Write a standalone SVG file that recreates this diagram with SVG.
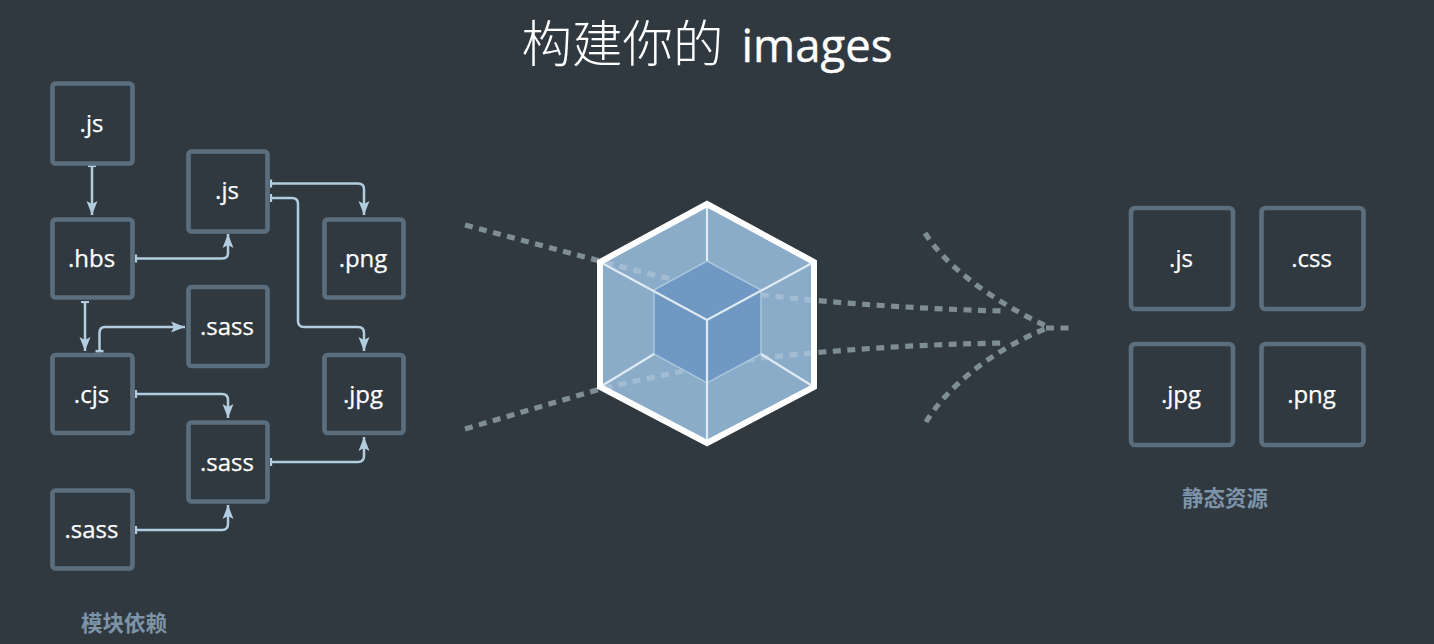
<svg xmlns="http://www.w3.org/2000/svg" width="1434" height="644" viewBox="0 0 1434 644">
<style>
.box{fill:none;stroke:#5b6e7e;stroke-width:4.6}
.t{font-family:"Open Sans","Noto Sans",sans-serif;font-size:24px;fill:#fff;stroke:#fff;stroke-width:.25;text-anchor:middle}
.cap{font-family:"Noto Sans CJK SC","Noto Sans",sans-serif;font-size:21.5px;font-weight:700;fill:#7d93a8;text-anchor:middle}
.c{fill:none;stroke:#b3cde0;stroke-width:2.5;marker-start:url(#tick);marker-end:url(#arrow)}
.d{fill:none;stroke:#7f8d94;stroke-width:5.2;stroke-dasharray:8 6.500}
.dl{fill:none;stroke:#fff;stroke-opacity:.2;stroke-width:5.2;stroke-dasharray:8 6.500}
.in{stroke:#a9c6de;stroke-width:1.5;fill:#6f98c3}
.sp{stroke:#dfeaf3;stroke-width:2.2;fill:none}
</style>
<defs>
<marker id="arrow" markerUnits="userSpaceOnUse" markerWidth="16" markerHeight="14" refX="14" refY="7" orient="auto"><path d="M0 1.500L14 7L0 12.500L3 7Z" fill="#b3cde0"/></marker>
<marker id="tick" markerUnits="userSpaceOnUse" markerWidth="6" markerHeight="10" refX="1.500" refY="5" orient="auto"><rect x="0" y="1" width="2.600" height="8" fill="#b3cde0"/></marker>
<clipPath id="hexclip"><path d="M707 204L814 262V387L707 443L600 387V262Z"/></clipPath>
</defs>
<rect width="1434" height="644" fill="#30393f"/>
<text id="title" x="707" y="62" text-anchor="middle" fill="#fff"><tspan font-family="'Noto Sans CJK SC',sans-serif" font-size="50.500" font-weight="300">构建你的</tspan><tspan font-family="'Open Sans',sans-serif" font-size="45.500" stroke="#fff" stroke-width=".4" dx="18">images</tspan></text>
<g id="connectors">
<path class="c" d="M92 166V215"/>
<path class="c" d="M136 258.500H222Q228 258.500 228 253V234"/>
<path class="c" d="M271 183.500H358Q364 183.500 364 189V215"/>
<path class="c" d="M271 198H292Q298 198 298 204V321Q298 327 304 327H358Q364 327 364 333V351"/>
<path class="c" d="M85 302V351"/>
<path class="c" d="M99.500 351V333Q99.500 327 105 327H185"/>
<path class="c" d="M136 394H222Q228 394 228 400V418"/>
<path class="c" d="M271 462H358Q364 462 364 456V437"/>
<path class="c" d="M136 530H222Q228 530 228 524V505"/>
<path class="d" d="M465 225L600 261Q690 286 762 295Q880 308 1003 311"/>
<path class="d" d="M465 429L600 389Q690 368 762 358Q880 345 1003 343"/>
<path class="d" d="M925 233C945 265 990 300 1050 328"/>
<path class="d" d="M926 422C945 390 990 350 1050 327"/>
<path class="d" d="M1046 328H1070"/>
</g>
<g id="n1"><rect class="box" x="52.500" y="83.500" width="80" height="80" rx="3"/><text class="t" x="91.500" y="132">.js</text></g>
<g id="n2"><rect class="box" x="52.500" y="219.500" width="80" height="78" rx="3"/><text class="t" x="91.500" y="267">.hbs</text></g>
<g id="n3"><rect class="box" x="52.500" y="355" width="80" height="78" rx="3"/><text class="t" x="91.500" y="403">.cjs</text></g>
<g id="n4"><rect class="box" x="52.500" y="490.500" width="80" height="78" rx="3"/><text class="t" x="91.500" y="538">.sass</text></g>
<g id="n5"><rect class="box" x="188.500" y="151.500" width="79" height="80" rx="3"/><text class="t" x="227" y="199">.js</text></g>
<g id="n6"><rect class="box" x="188.500" y="287" width="79" height="79" rx="3"/><text class="t" x="227" y="335">.sass</text></g>
<g id="n7"><rect class="box" x="188.500" y="422.500" width="79" height="79" rx="3"/><text class="t" x="227" y="471">.sass</text></g>
<g id="n8"><rect class="box" x="324.500" y="219.500" width="79" height="78" rx="3"/><text class="t" x="363" y="267">.png</text></g>
<g id="n9"><rect class="box" x="324.500" y="355" width="79" height="78" rx="3"/><text class="t" x="363" y="403">.jpg</text></g>
<g id="hub">
<path d="M707 204L814 262V387L707 443L600 387V262Z" fill="#8aacc8"/>
<g clip-path="url(#hexclip)"><path class="dl" d="M465 225L600 261Q690 286 762 295Q880 308 1003 311"/><path class="dl" d="M465 429L600 389Q690 368 762 358Q880 345 1003 343"/></g>
<path class="in" d="M707 261L761 290V354L707 383L654 354V290Z"/>
<path class="sp" d="M707 204V261M707 383V443M654 354L600 387M761 354L814 387M600 262L707 320L814 262M707 320V383"/>
<path d="M707 204L814 262V387L707 443L600 387V262Z" fill="none" stroke="#fff" stroke-width="6"/>
</g>
<g id="o1"><rect class="box" x="1131" y="208" width="102" height="101" rx="4"/><text class="t" x="1181" y="267">.js</text></g>
<g id="o2"><rect class="box" x="1261.500" y="208" width="102" height="101" rx="4"/><text class="t" x="1311.500" y="267">.css</text></g>
<g id="o3"><rect class="box" x="1131" y="344" width="102" height="101" rx="4"/><text class="t" x="1181" y="403">.jpg</text></g>
<g id="o4"><rect class="box" x="1261.500" y="344" width="102" height="101" rx="4"/><text class="t" x="1311.500" y="403">.png</text></g>
<text id="cap1" class="cap" x="124" y="631">模块依赖</text>
<text id="cap2" class="cap" x="1225" y="506">静态资源</text>
</svg>
